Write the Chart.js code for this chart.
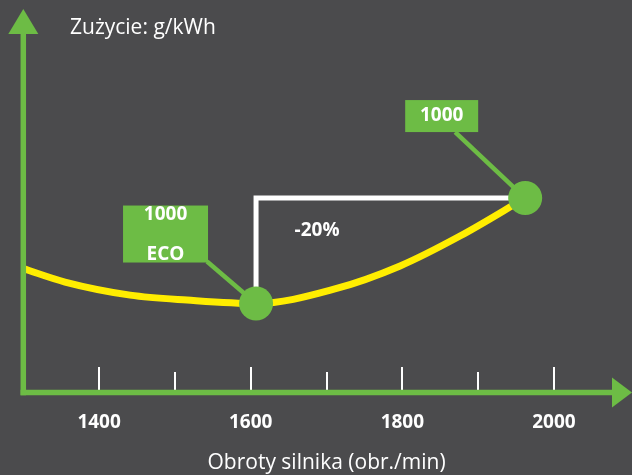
<!DOCTYPE html>
<html><head><meta charset="utf-8">
<script src="https://cdn.jsdelivr.net/npm/chart.js@4.4.1/dist/chart.umd.min.js"></script>
<style>
html,body{margin:0;padding:0;background:#4b4b4d;overflow:hidden;}
canvas{display:block;}
</style>
</head><body><canvas id="c" width="632" height="475" style="width:632px;height:475px"></canvas>
<script>
// ---- data ----
const rpm = [1300, 1355, 1441, 1516, 1607, 1711, 1797, 1876, 1962];
const consumption = [32.3, 28.8, 25.4, 24.1, 23.2, 27.0, 33.0, 40.8, 50.7];
const markerRpm = [1607, 1962];
const markerValue = [23.2, 50.7];
const markerLabels = [['1000', 'ECO'], ['1000']];
const xTicks = [1400, 1500, 1600, 1700, 1800, 1900, 2000];
const xTickLabels = [1400, 1600, 1800, 2000];
const yTitle = 'Zużycie: g/kWh';
const xTitle = 'Obroty silnika (obr./min)';
const savingLabel = '-20%';

// ---- styles ----
const BG = '#4b4b4d', GREEN = '#6dbc45', YELLOW = '#ffed00', WHITE = '#ffffff';
const FONT = "'Open Sans', sans-serif";
const callouts = [
  {box: [-133, -98, 85, 57], lines: [[-90.5, -89], [-90.5, -49]], from: [-49, -42]},
  {box: [-120, -98, 73, 32], lines: [[-83.5, -82]], from: [-70, -66]}
];

const overlay = {
  id: 'overlay',
  beforeDraw(chart) {
    const ctx = chart.ctx;
    ctx.save(); ctx.fillStyle = BG; ctx.fillRect(0, 0, chart.width, chart.height); ctx.restore();
  },
  beforeDatasetsDraw(chart) {
    const ctx = chart.ctx, x = chart.scales.x, y = chart.scales.y;
    const p1 = [x.getPixelForValue(markerRpm[0]), y.getPixelForValue(markerValue[0])];
    const p2 = [x.getPixelForValue(markerRpm[1]), y.getPixelForValue(markerValue[1])];
    ctx.save();
    ctx.strokeStyle = WHITE; ctx.lineWidth = 5; ctx.lineJoin = 'miter'; ctx.lineCap = 'butt';
    ctx.beginPath(); ctx.moveTo(p1[0], p1[1]); ctx.lineTo(p1[0], p2[1]); ctx.lineTo(p2[0], p2[1]); ctx.stroke();
    markerRpm.forEach((r, i) => {
      const cx = x.getPixelForValue(r), cy = y.getPixelForValue(markerValue[i]);
      const c = callouts[i];
      ctx.strokeStyle = GREEN; ctx.lineWidth = 4.5;
      ctx.beginPath(); ctx.moveTo(cx + c.from[0], cy + c.from[1]); ctx.lineTo(cx, cy); ctx.stroke();
      ctx.fillStyle = GREEN;
      ctx.fillRect(cx + c.box[0], cy + c.box[1], c.box[2], c.box[3]);
    });
    ctx.restore();
  },
  afterDraw(chart) {
    const ctx = chart.ctx, x = chart.scales.x, y = chart.scales.y, a = chart.chartArea;
    const ax = a.left, ay = a.bottom;
    ctx.save();
    ctx.strokeStyle = WHITE; ctx.lineWidth = 2;
    xTicks.forEach(v => {
      const px = Math.round(x.getPixelForValue(v));
      const len = xTickLabels.includes(v) ? 23 : 18;
      ctx.beginPath(); ctx.moveTo(px, ay - 2.5); ctx.lineTo(px, ay - 2.5 - len); ctx.stroke();
    });
    ctx.strokeStyle = GREEN; ctx.fillStyle = GREEN; ctx.lineWidth = 5.5;
    ctx.beginPath(); ctx.moveTo(ax, ay + 2.75); ctx.lineTo(ax, 33); ctx.stroke();
    ctx.beginPath(); ctx.moveTo(ax - 2.75, ay); ctx.lineTo(613, ay); ctx.stroke();
    ctx.beginPath(); ctx.moveTo(ax, 9); ctx.lineTo(ax - 15, 34); ctx.lineTo(ax + 15, 34); ctx.closePath(); ctx.fill();
    ctx.beginPath(); ctx.moveTo(632, ay); ctx.lineTo(612, ay - 15); ctx.lineTo(612, ay + 15); ctx.closePath(); ctx.fill();
    ctx.fillStyle = WHITE; ctx.font = "21px " + FONT; ctx.textAlign = 'left'; ctx.textBaseline = 'alphabetic';
    ctx.fillText(yTitle, 70, 34);
    const p1 = [x.getPixelForValue(markerRpm[0]), y.getPixelForValue(markerValue[1])];
    ctx.font = "bold 19px " + FONT; ctx.textAlign = 'center'; ctx.textBaseline = 'middle';
    ctx.fillText(savingLabel, p1[0] + 61, p1[1] + 33);
    markerRpm.forEach((r, i) => {
      const cx = x.getPixelForValue(r), cy = y.getPixelForValue(markerValue[i]);
      callouts[i].lines.forEach((l, j) => ctx.fillText(markerLabels[i][j], cx + l[0], cy + l[1]));
    });
    ctx.restore();
  }
};

new Chart(document.getElementById('c'), {
  type: 'line',
  data: {
    datasets: [
      {data: markerRpm.map((v, i) => ({x: v, y: markerValue[i]})), showLine: false,
       pointRadius: 17, pointHoverRadius: 17, pointBackgroundColor: GREEN, pointBorderWidth: 0, order: 0, clip: false},
      {data: rpm.map((v, i) => ({x: v, y: consumption[i]})), borderColor: YELLOW, borderWidth: 7,
       pointRadius: 0, tension: 0.4, cubicInterpolationMode: 'monotone', order: 1, fill: false}
    ]
  },
  options: {
    responsive: false, animation: false, devicePixelRatio: 1,
    layout: {autoPadding: false, padding: {left: 23.3, right: 2.2, top: 9, bottom: 0}},
    plugins: {legend: {display: false}, tooltip: {enabled: false}},
    events: [],
    scales: {
      x: {
        type: 'linear', min: 1300, max: 2100,
        afterBuildTicks: s => { s.ticks = xTickLabels.map(v => ({value: v})); },
        afterFit: s => { s.height = 82.5; s.paddingLeft = 0; s.paddingRight = 0; },
        grid: {display: false, drawTicks: false}, border: {display: false},
        ticks: {color: WHITE, font: {family: FONT, size: 19, weight: 'bold'}, padding: 19, callback: v => String(v), maxRotation: 0, autoSkip: false},
        title: {display: true, text: xTitle, color: WHITE, font: {family: FONT, size: 21, lineHeight: 1.1}, padding: {top: 0, bottom: 0}}
      },
      y: {type: 'linear', min: 0, max: 100, display: false}
    }
  },
  plugins: [overlay]
});
</script>
</body></html>
